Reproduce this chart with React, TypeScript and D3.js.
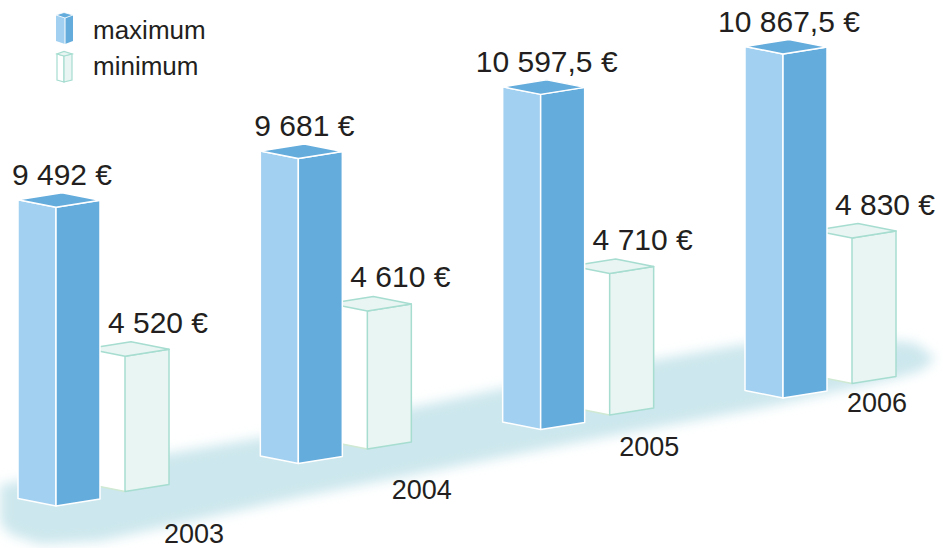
import React from "react";
import * as d3 from "d3";

const years = ["2003", "2004", "2005", "2006"];
const maxValues = [9492, 9681, 10597.5, 10867.5];
const minValues = [4520, 4610, 4710, 4830];
const legendLabels = ["maximum", "minimum"];

const W = 943;
const H = 548;

const locale = d3.formatLocale({
  decimal: ",",
  thousands: "\u00a0",
  grouping: [3],
  currency: ["", " €"],
});
const fmt = locale.format(",.1~f");
const label = (v: number) => `${fmt(v)} €`;

// horizontal position of each group (front edge of the max bar)
const x = d3.scalePoint<string>().domain(years).range([56, 783]);
// ground baseline in perspective (index -> y)
const ground = d3.scalePow().exponent(0.85).domain([0, 3]).range([506, 398]);
// bar height
const h = d3.scaleLinear().domain([410, 10867.5]).range([0, 344]);
// year labels
const xYear = d3.scalePoint<string>().domain(years).range([194, 877]);
const yYear = d3.scaleLinear().domain([194, 877]).range([543, 412]);

const L = [-38, -7.5];
const R = [44, -7];
const MIN_OFF = [69, -14.5];

type Pt = [number, number];
const pts = (p: Pt[]) => p.map((q) => q.join(",")).join(" ");

function boxFaces(fx: number, fy: number, bh: number) {
  const fb: Pt = [fx, fy];
  const lb: Pt = [fx + L[0], fy + L[1]];
  const rb: Pt = [fx + R[0], fy + R[1]];
  const ft: Pt = [fx, fy - bh];
  const lt: Pt = [fx + L[0], fy - bh + L[1]];
  const rt: Pt = [fx + R[0], fy - bh + R[1]];
  const bt: Pt = [fx + L[0] + R[0], fy - bh + L[1] + R[1]];
  return {
    left: [fb, lb, lt, ft] as Pt[],
    right: [fb, rb, rt, ft] as Pt[],
    top: [ft, lt, bt, rt] as Pt[],
    back: bt,
    lb,
    fb,
  };
}

const band: Pt[] = [
  [0, 485], [130, 460], [260, 438], [410, 408], [500, 389], [660, 359],
  [740, 345], [850, 336], [915, 343], [935, 358], [922, 370], [900, 377],
  [767, 407], [620, 434], [300, 497], [100, 541], [40, 544], [10, 534], [0, 522],
];

const FONT = "'Liberation Sans', Arial, Helvetica, sans-serif";
const TXT = "#231f20";

export default function App() {
  const groups = years.map((yr, i) => {
    const fx = x(yr)!;
    const fy = ground(i);
    const mx = boxFaces(fx, fy, h(maxValues[i]));
    const mn = boxFaces(fx + MIN_OFF[0], fy + MIN_OFF[1], h(minValues[i]));
    return { yr, i, mx, mn };
  });

  return (
    <svg
      width={W}
      height={H}
      style={{ position: "fixed", left: 0, top: 0, background: "#fff" }}
      fontFamily={FONT}
    >
      <defs>
        <filter id="blur" x="-10%" y="-30%" width="120%" height="160%">
          <feGaussianBlur stdDeviation="6" />
        </filter>
      </defs>
      <polygon points={pts(band)} fill="#cce7ed" filter="url(#blur)" />

      {groups
        .slice()
        .reverse()
        .map(({ yr, i, mx, mn }) => (
          <g key={yr}>
            {/* minimum bar */}
            <polygon points={pts(mn.left)} fill="#ffffff" stroke="none" />
            <line
              x1={mn.lb[0]}
              y1={mn.lb[1]}
              x2={mn.fb[0]}
              y2={mn.fb[1]}
              stroke="#cfe9d3"
              strokeWidth={1.5}
            />
            <polygon points={pts(mn.right)} fill="#e9f5f2" stroke="#a6ddd0" strokeWidth={1.5} strokeLinejoin="round" />
            <polygon points={pts(mn.top)} fill="#e9f5f2" stroke="#a6ddd0" strokeWidth={1.5} strokeLinejoin="round" />
            {/* maximum bar */}
            <polygon points={pts(mx.left)} fill="#a2d0f0" stroke="#fff" strokeWidth={1.5} strokeLinejoin="round" />
            <polygon points={pts(mx.right)} fill="#64acdc" stroke="#fff" strokeWidth={1.5} strokeLinejoin="round" />
            <polygon points={pts(mx.top)} fill="#64acdc" stroke="#fff" strokeWidth={1.5} strokeLinejoin="round" />
            {/* labels */}
            <text x={mx.back[0]} y={mx.back[1] - 8} textAnchor="middle" fontSize={30} fill={TXT}>
              {label(maxValues[i])}
            </text>
            <text x={mn.back[0] + 27} y={mn.back[1] - 9} textAnchor="middle" fontSize={30} fill={TXT}>
              {label(minValues[i])}
            </text>
            <text x={xYear(yr)!} y={yYear(xYear(yr)!)} textAnchor="middle" fontSize={27} fill={TXT}>
              {yr}
            </text>
          </g>
        ))}

      {/* legend */}
      <g>
        <polygon points={pts([[65, 44], [56, 41], [56, 15], [65, 18]])} fill="#a2d0f0" />
        <polygon points={pts([[65, 44], [73, 41], [73, 15], [65, 18]])} fill="#64acdc" />
        <polygon points={pts([[65, 18], [56, 15], [64, 12.5], [73, 15]])} fill="#64acdc" stroke="#fff" strokeWidth={0.8} />
        <line x1={65} y1={18} x2={65} y2={44} stroke="#fff" strokeWidth={1} />
        <polygon points={pts([[64, 82], [57, 80], [57, 54], [64, 56]])} fill="#fff" stroke="#a6ddd0" strokeWidth={1.2} />
        <polygon points={pts([[64, 82], [72, 80], [72, 54], [64, 56]])} fill="#e9f5f2" stroke="#a6ddd0" strokeWidth={1.2} />
        <polygon points={pts([[64, 56], [57, 54], [64, 51.5], [72, 54]])} fill="#e9f5f2" stroke="#a6ddd0" strokeWidth={1.2} />
        {legendLabels.map((t, k) => (
          <text key={t} x={93} y={39 + k * 36} fontSize={26} fill={TXT}>
            {t}
          </text>
        ))}
      </g>
    </svg>
  );
}
